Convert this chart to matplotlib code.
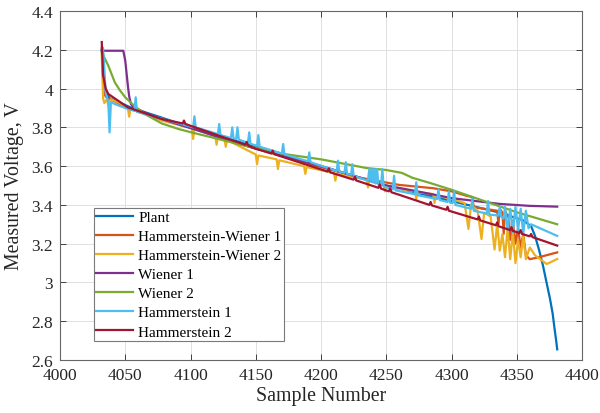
import matplotlib
matplotlib.use("Agg")
import matplotlib.pyplot as plt

plt.rcParams['font.family'] = ['Liberation Serif', 'DejaVu Serif']
plt.rcParams['mathtext.fontset'] = 'stix'

# ---- data -------------------------------------------------------------
plant_x = [4032, 4033, 4035, 4038, 4045, 4055, 4078, 4100, 4130, 4150, 4200,
           4250, 4300, 4337, 4355, 4361, 4364, 4367, 4370, 4372.5, 4375.5,
           4377.5, 4379, 4380.2, 4381]
plant_y = [4.20, 4.08, 3.98, 3.95, 3.93, 3.90, 3.85, 3.80, 3.74, 3.70, 3.60,
           3.50, 3.42, 3.36, 3.32, 3.29, 3.24, 3.17, 3.09, 3.01, 2.915,
           2.84, 2.76, 2.70, 2.655]

hw1_x = [4032, 4033, 4034, 4036, 4040, 4052, 4078, 4100, 4129, 4150, 4200,
         4230, 4260, 4286, 4300, 4311, 4316, 4317, 4320, 4335, 4336, 4337,
         4339, 4340, 4341, 4344, 4345, 4347, 4349, 4351, 4353, 4355, 4357,
         4360, 4367, 4381]
hw1_y = [4.21, 4.05, 3.97, 3.95, 3.94, 3.90, 3.84, 3.80, 3.735, 3.69, 3.595,
         3.54, 3.503, 3.486, 3.47, 3.448, 3.44, 3.39, 3.385, 3.37, 3.30, 3.38,
         3.36, 3.25, 3.37, 3.33, 3.22, 3.32, 3.20, 3.28, 3.18, 3.25, 3.14,
         3.12, 3.13, 3.155]

hw2_x = [4032, 4033, 4034, 4036, 4037, 4039, 4046, 4052, 4053, 4054, 4078,
         4101, 4102, 4103, 4119, 4120, 4121, 4126, 4127, 4128, 4150, 4151,
         4152, 4166, 4167, 4168, 4187, 4188, 4189, 4210, 4211, 4212, 4235,
         4236, 4237, 4248, 4249, 4250, 4260, 4272, 4273, 4274, 4286, 4287,
         4288, 4300, 4310, 4313, 4315, 4320, 4323, 4325, 4330, 4333, 4335,
         4337, 4339, 4341, 4343, 4345, 4347, 4349, 4351, 4353, 4355, 4357,
         4360, 4364, 4368, 4373, 4381]
hw2_y = [4.17, 3.95, 3.925, 3.945, 3.915, 3.945, 3.925, 3.90, 3.855, 3.895, 3.835,
         3.795, 3.74, 3.79, 3.755, 3.71, 3.75, 3.74, 3.70, 3.735, 3.66, 3.61,
         3.655, 3.635, 3.585, 3.63, 3.60, 3.56, 3.595, 3.565, 3.525, 3.56, 3.53,
         3.49, 3.525, 3.505, 3.47, 3.50, 3.482, 3.47, 3.43, 3.465, 3.456, 3.41,
         3.45, 3.43, 3.41, 3.276, 3.40, 3.37, 3.224, 3.36, 3.34, 3.17, 3.30,
         3.164, 3.25, 3.13, 3.28, 3.12, 3.26, 3.10, 3.22, 3.13, 3.24, 3.12,
         3.18, 3.14, 3.12, 3.095, 3.121]

w1_x = [4032, 4033, 4048.5, 4050, 4051, 4052, 4053, 4054.4, 4056, 4070, 4090,
        4110, 4129, 4150, 4171, 4200, 4250, 4270, 4300, 4337, 4360, 4381]
w1_y = [4.20, 4.195, 4.195, 4.144, 4.08, 4.015, 3.96, 3.92, 3.905, 3.86, 3.817,
        3.775, 3.731, 3.69, 3.655, 3.60, 3.50, 3.475, 3.435, 3.405, 3.395, 3.391]

w2_x = [4032, 4034, 4037, 4042, 4046, 4050, 4057, 4065, 4078, 4091, 4103, 4116,
        4142, 4161, 4171, 4200, 4235, 4250, 4262, 4270, 4285, 4300, 4325, 4350,
        4381]
w2_y = [4.19, 4.16, 4.118, 4.032, 3.99, 3.955, 3.91, 3.869, 3.82, 3.791, 3.77,
        3.749, 3.705, 3.68, 3.663, 3.635, 3.59, 3.58, 3.565, 3.54, 3.51, 3.478,
        3.42, 3.362, 3.30]

h1_x = [4032, 4033, 4034, 4035, 4037, 4038, 4039, 4042, 4050, 4057, 4058, 4059,
        4078, 4102, 4103, 4104, 4121, 4122, 4123, 4131, 4132, 4133, 4135, 4136,
        4137, 4144, 4145, 4146, 4151, 4152, 4153, 4170, 4171, 4172, 4190, 4191,
        4192, 4212, 4213, 4214, 4218, 4219, 4220, 4223, 4224, 4225, 4236, 4237,
        4238, 4239, 4240, 4241, 4242, 4243, 4244, 4246, 4247, 4248, 4255, 4256,
        4257, 4272, 4273, 4274, 4289, 4290, 4291, 4297, 4298, 4299, 4301, 4302,
        4303, 4315, 4316, 4317, 4327, 4328, 4329, 4336, 4337, 4338, 4340, 4341,
        4343, 4345, 4347, 4349, 4351, 4353, 4355, 4357, 4359, 4361, 4381]
h1_y = [4.20, 4.21, 4.10, 3.98, 3.93, 3.774, 3.93, 3.92, 3.90, 3.885, 3.955, 3.88,
        3.845, 3.80, 3.857, 3.80, 3.765, 3.817, 3.76, 3.745, 3.80, 3.743, 3.74, 3.80,
        3.737, 3.72, 3.774, 3.715, 3.705, 3.76, 3.70, 3.665, 3.714, 3.66, 3.625, 3.671,
        3.62, 3.575, 3.628, 3.572, 3.565, 3.62, 3.56, 3.555, 3.61, 3.55, 3.525, 3.585,
        3.52, 3.585, 3.515, 3.585, 3.51, 3.585, 3.505, 3.50, 3.585, 3.495, 3.48, 3.55,
        3.475, 3.455, 3.517, 3.45, 3.43, 3.48, 3.425, 3.415, 3.47, 3.41, 3.41, 3.47,
        3.40, 3.38, 3.43, 3.37, 3.355, 3.42, 3.35, 3.345, 3.39, 3.34, 3.33, 3.39,
        3.27, 3.38, 3.26, 3.39, 3.27, 3.38, 3.25, 3.37, 3.28, 3.30, 3.24]

h2_x = [4032, 4033, 4035, 4037, 4052, 4078, 4094, 4095, 4096, 4100, 4129, 4142,
        4143, 4144, 4150, 4162, 4163, 4164, 4200, 4205, 4206, 4207, 4225, 4226,
        4227, 4244, 4245, 4246, 4252, 4253, 4254, 4260, 4283, 4284, 4285, 4296,
        4297, 4298, 4320, 4321, 4322, 4334, 4335, 4336, 4345, 4346, 4347, 4352,
        4353, 4354, 4360, 4361, 4362, 4381]
h2_y = [4.24, 4.07, 4.00, 3.972, 3.903, 3.843, 3.82, 3.835, 3.818, 3.808, 3.74, 3.71,
        3.725, 3.707, 3.69, 3.665, 3.68, 3.662, 3.583, 3.572, 3.588, 3.568, 3.53, 3.545,
        3.526, 3.488, 3.505, 3.484, 3.47, 3.485, 3.465, 3.452, 3.40, 3.415, 3.397, 3.375,
        3.39, 3.37, 3.325, 3.34, 3.32, 3.295, 3.31, 3.29, 3.27, 3.285, 3.266, 3.255,
        3.27, 3.25, 3.238, 3.25, 3.234, 3.19]

series = [
    ("Plant", plant_x, plant_y, "#0072BD"),
    ("Hammerstein-Wiener 1", hw1_x, hw1_y, "#D95319"),
    ("Hammerstein-Wiener 2", hw2_x, hw2_y, "#EDB120"),
    ("Wiener 1", w1_x, w1_y, "#7E2F8E"),
    ("Wiener 2", w2_x, w2_y, "#77AC30"),
    ("Hammerstein 1", h1_x, h1_y, "#4DBEEE"),
    ("Hammerstein 2", h2_x, h2_y, "#A2142F"),
]

x_ticks = [4000, 4050, 4100, 4150, 4200, 4250, 4300, 4350, 4400]
y_ticks = [2.6, 2.8, 3.0, 3.2, 3.4, 3.6, 3.8, 4.0, 4.2, 4.4]
y_tick_labels = ["2.6", "2.8", "3", "3.2", "3.4", "3.6", "3.8", "4", "4.2", "4.4"]

# ---- figure -----------------------------------------------------------
fig = plt.figure(figsize=(6.0, 4.14), dpi=100)
ax = fig.add_axes([0.1, 0.128, 0.87, 0.843])

for label, xs, ys, color in series:
    ax.plot(xs, ys, color=color, lw=1.6, label=label)

ax.set_xlim(4000, 4400)
ax.set_ylim(2.6, 4.4)
ax.set_xticks(x_ticks)
ax.set_yticks(y_ticks)
ax.set_yticklabels(y_tick_labels)

ax.grid(True, color="#e0e0e0", lw=0.7)
ax.set_axisbelow(True)
ax.tick_params(direction="in", top=True, right=True, length=4,
               width=0.7, color="#404040", labelsize=12.5,
               labelcolor="#262626")
ax.tick_params(axis="x", pad=5)
ax.tick_params(axis="y", pad=5)
for sp in ax.spines.values():
    sp.set_color("#666666")
    sp.set_linewidth(0.8)

ax.set_xlabel("Sample Number", fontsize=14.3, color="#262626", labelpad=2)
ax.set_ylabel("Measured Voltage, V", fontsize=14.3, color="#262626", labelpad=5)

leg = ax.legend(loc="lower left", bbox_to_anchor=(0.065, 0.055),
                borderaxespad=0, fontsize=11, frameon=True, fancybox=False,
                handlelength=2.4, handletextpad=0.35, labelspacing=0.35,
                borderpad=0.15)
leg.get_frame().set_edgecolor("#7a7a7a")
leg.get_frame().set_linewidth(0.8)
leg.get_frame().set_alpha(1.0)

fig.savefig("out.png", dpi=100)
